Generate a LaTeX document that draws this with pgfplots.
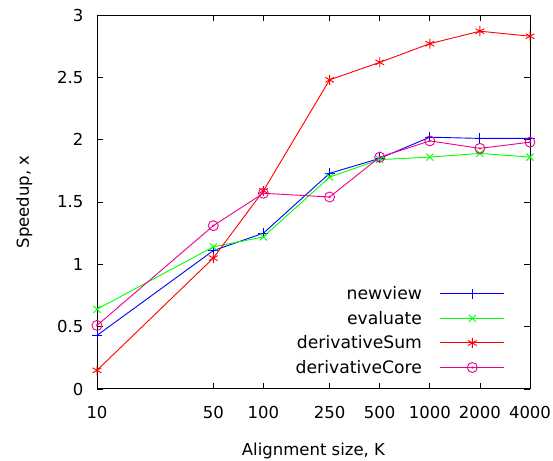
\documentclass[border=0pt]{standalone}
\usepackage{fontspec}
\setmainfont{DejaVu Sans}
\usepackage{pgfplots}
\pgfplotsset{compat=1.18}
\definecolor{gpgreen}{RGB}{0,255,0}
\pgfdeclareplotmark{odot}{%
  \pgfpathcircle{\pgfpointorigin}{\pgfplotmarksize}\pgfusepathqstroke
  \pgfpathcircle{\pgfpointorigin}{0.6pt}\pgfusepathqfillstroke}
\newcommand{\gpfont}{\fontsize{16.5}{19}\selectfont}
\begin{document}
\begin{tikzpicture}
\begin{axis}[
    name=ax,
    scale only axis,
    width=433pt, height=374pt,
    xmode=log,
    xmin=10, xmax=4000,
    ymin=0, ymax=3,
    xtick={10,50,100,250,500,1000,2000,4000},
    xticklabels={10,50,100,250,500,1000,2000,4000},
    ytick={0,0.5,1,1.5,2,2.5,3},
    yticklabels={0,0.5,1,1.5,2,2.5,3},
    minor xtick={},
    tick align=inside,
    major tick length=6pt,
    axis line style={line width=1pt},
    every tick/.style={black, line width=0.8pt},
    /pgf/number format/assume math mode=true,
    tick label style={font=\gpfont},
    label style={font=\gpfont},
    xticklabel style={yshift=-14pt},
    yticklabel style={xshift=-10pt},
    xlabel={Alignment size, K},
    ylabel={Speedup, x},
    xlabel style={yshift=-17pt},
    ylabel style={yshift=18pt},
    legend plot pos=right,
    legend cell align=right,
    legend style={draw=none, fill=none, anchor=south east, at={(1,0)},
      font=\fontsize{17.2}{19}\selectfont, xshift=-22pt, yshift=10pt, row sep=6pt,
      /tikz/every odd column/.append style={column sep=16pt}},
    legend image code/.code={\draw[mark repeat=2,mark phase=2]
      plot coordinates {(0pt,0pt)(32pt,0pt)(64pt,0pt)};},
    every axis plot/.append style={line width=0.9pt, mark size=5pt},
]
\addplot[color=blue, mark=+] coordinates {
  (10,0.43) (50,1.11) (100,1.25) (250,1.73) (500,1.85) (1000,2.02) (2000,2.01) (4000,2.01)};
\addplot[color=gpgreen, mark=x] coordinates {
  (10,0.64) (50,1.14) (100,1.22) (250,1.70) (500,1.84) (1000,1.86) (2000,1.89) (4000,1.86)};
\addplot[color=red, mark=asterisk] coordinates {
  (10,0.15) (50,1.05) (100,1.59) (250,2.48) (500,2.62) (1000,2.77) (2000,2.87) (4000,2.83)};
\addplot[color=magenta, mark=odot] coordinates {
  (10,0.51) (50,1.31) (100,1.57) (250,1.54) (500,1.86) (1000,1.99) (2000,1.93) (4000,1.98)};
\legend{newview, evaluate, derivativeSum, derivativeCore}
\end{axis}
\pgfresetboundingbox
\path ([xshift=-97pt,yshift=-72pt]ax.south west) rectangle ([xshift=23pt,yshift=15pt]ax.north east);
\end{tikzpicture}
\end{document}
